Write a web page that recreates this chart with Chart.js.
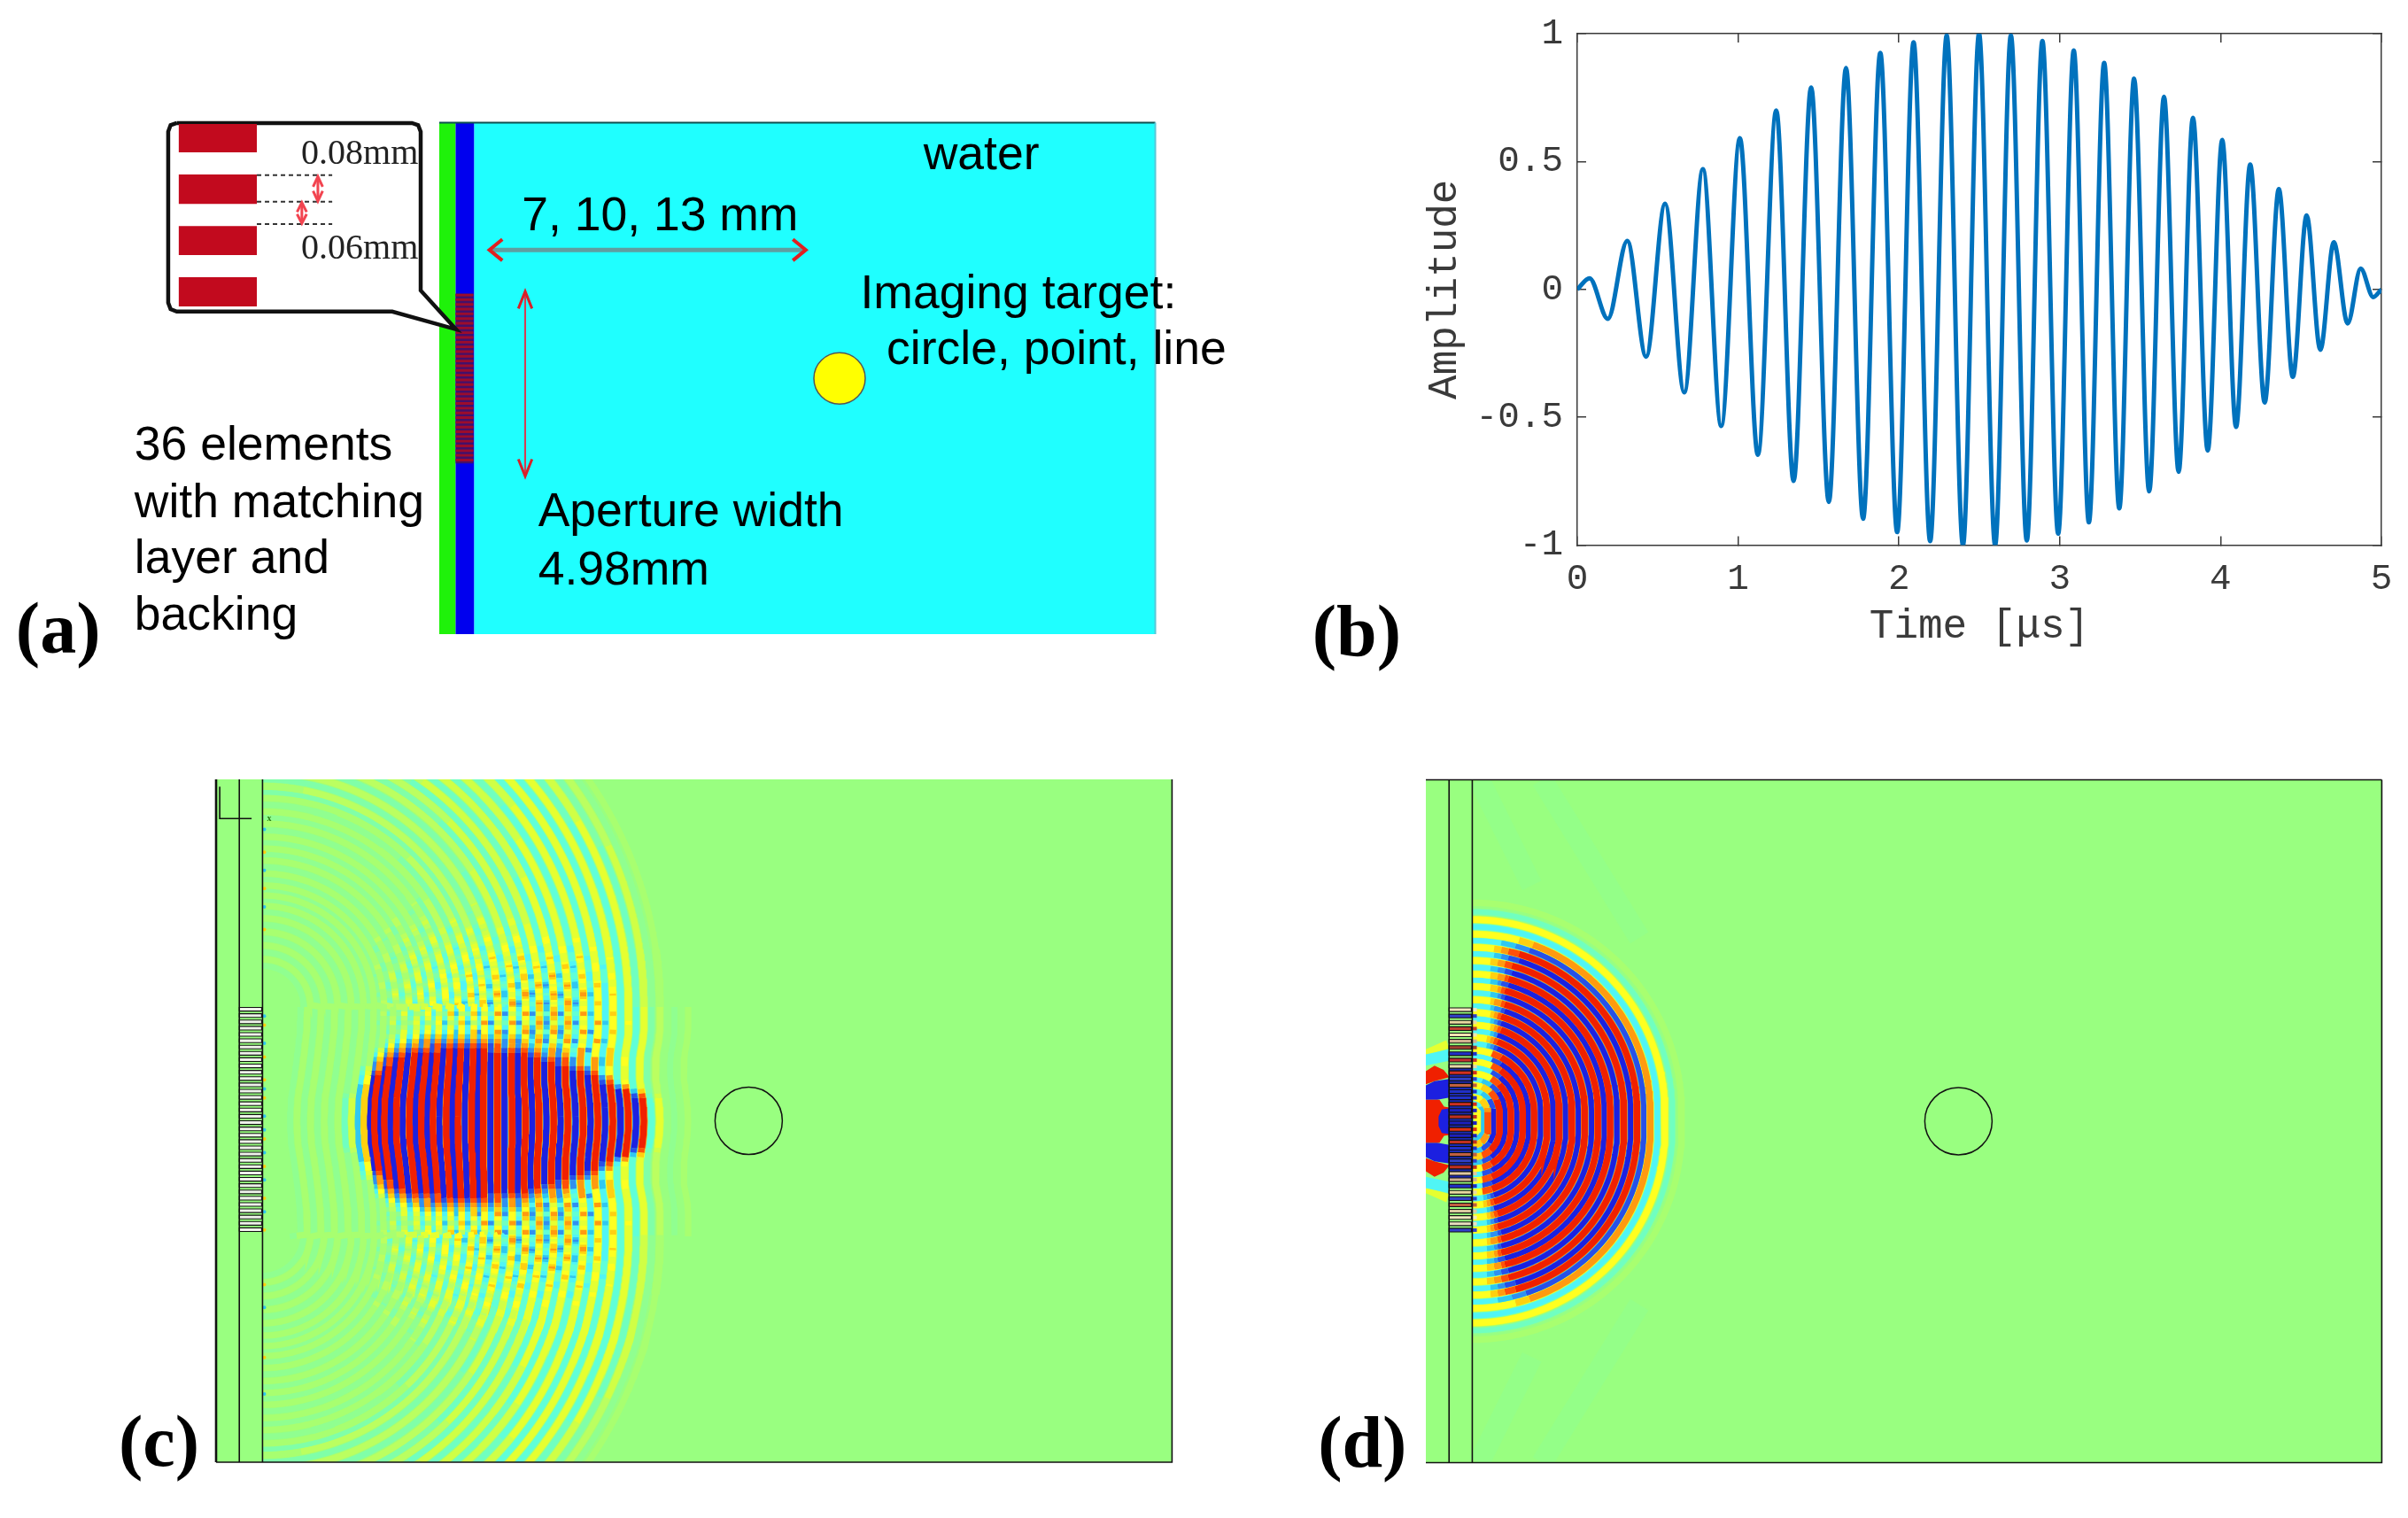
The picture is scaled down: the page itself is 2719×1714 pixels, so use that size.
<!DOCTYPE html>
<html>
<head>
<meta charset="utf-8">
<title>Ultrasound array simulation</title>
<script src="https://cdn.jsdelivr.net/npm/chart.js@4/dist/chart.umd.min.js"></script>
<style>
html, body { margin: 0; background: #fff; overflow: hidden; }
body { width: 2719px; height: 1714px; position: relative; }
canvas { position: absolute; }
</style>
</head>
<body>
<script>
// panel (b): peaks and troughs of the pulse
const pulseTime = [0, 0.076, 0.19, 0.311, 0.428, 0.546, 0.665, 0.781, 0.895, 1.011, 1.123, 1.237, 1.345, 1.454, 1.564, 1.671, 1.777, 1.884, 1.989, 2.091, 2.194, 2.297, 2.398, 2.498, 2.598, 2.696, 2.795, 2.892, 2.99, 3.087, 3.181, 3.276, 3.37, 3.462, 3.556, 3.648, 3.739, 3.828, 3.92, 4.01, 4.096, 4.184, 4.274, 4.362, 4.449, 4.535, 4.62, 4.704, 4.79, 4.871, 4.949, 5];
const pulseAmp = [0, 0.043, -0.115, 0.19, -0.263, 0.335, -0.403, 0.47, -0.534, 0.591, -0.647, 0.70, -0.749, 0.79, -0.831, 0.866, -0.897, 0.925, -0.949, 0.966, -0.984, 0.993, -1, 1, -1, 0.993, -0.982, 0.971, -0.955, 0.934, -0.911, 0.886, -0.856, 0.824, -0.79, 0.753, -0.713, 0.671, -0.63, 0.584, -0.538, 0.488, -0.442, 0.392, -0.342, 0.289, -0.236, 0.184, -0.133, 0.081, -0.03, 0];
const timeTicks = [0, 1, 2, 3, 4, 5];
const ampTicks = [-1, -0.5, 0, 0.5, 1];

// panel (c): wave stripes on the axis, mm from the array face
const cRed = [9.35, 8.73, 8.38, 8.04, 7.70, 7.37, 7.05, 6.71, 6.40, 6.08, 5.78, 5.49, 5.16, 4.84, 4.59, 4.29, 4.03, 3.74, 3.48, 3.22, 2.93, 2.67, 2.45, 2.22, 1.95, 1.65, 1.35, 1.05, 0.75];
const cBlue = [9.05, 8.54, 8.21, 7.87, 7.53, 7.21, 6.88, 6.55, 6.24, 5.93, 5.63, 5.32, 5.0, 4.71, 4.44, 4.16, 3.88, 3.61, 3.35, 3.07, 2.8, 2.56, 2.33, 2.08, 1.8, 1.5, 1.2, 0.9, 0.6];
const cCoreAmp = [0, 0.28, 1.3, 1.4, 1.4, 1.4, 1.4, 1.4, 1.4, 1.4, 1.4, 1.4, 1.4, 1.4, 1.4, 1.4, 1.4, 1.4, 1.4, 1.4, 1.4, 1.3, 1.1, 0.45, 0.15, 0, 0, 0, 0];
const cCoreHalf = [0, 0.8, 0.85, 1.0, 1.25, 1.5, 1.7, 1.85, 1.95, 2.05, 2.15, 2.2, 2.25, 2.3, 2.3, 2.3, 2.3, 2.25, 2.2, 2.15, 2.05, 1.9, 1.7, 1.4, 0.9, 0, 0, 0, 0];
const cSideAmp = [0.05, 0.1, 0.2, 0.28, 0.31, 0.31, 0.29, 0.27, 0.25, 0.23, 0.21, 0.19, 0.17, 0.15, 0.13, 0.12, 0.11, 0.1, 0.09, 0.08, 0.08, 0.07, 0.07, 0.07, 0.07, 0.06, 0.06, 0.06, 0.05];
const cBlobAmp = [0, 0, 0.15, 0.3, 0.5, 0.62, 0.7, 0.75, 0.75, 0.75, 0.72, 0.7, 0.66, 0.62, 0.56, 0.5, 0.45, 0.4, 0.34, 0.28, 0.22, 0.16, 0.1, 0.05, 0, 0, 0, 0, 0];
// blotches along a stripe beside the core, off-axis distance in mm
const cLobeAt = [1.6, 1.8, 2.0, 2.2, 2.4, 2.6, 2.8, 3.0, 3.2, 3.4, 3.6, 3.8, 4.0, 4.2, 4.4, 4.6, 4.8, 5.0];
const cLobe = [1, 0.2, 1, 0.25, 1, 0.25, 0.95, 0.25, 0.85, 0.2, 0.7, 0.2, 0.55, 0.15, 0.4, 0.1, 0.25, 0];
// right half of the packet bulges forward, left half hangs back
const cBulgeAt = [0, 0.25, 0.5, 0.75, 1, 1.25, 1.5, 1.75, 2, 2.5];
const cBulgeBy = [0, 0.01, 0.03, 0.06, 0.08, 0.08, 0.06, 0.02, 0, 0];
const cDipAt = [0, 0.5, 1, 1.5, 2, 2.5];
const cDipBy = [0.18, 0.16, 0.1, 0.05, 0.01, 0];
const cWallYellow = [5.9, 5.1, 4.2, 2.1, 1.4, 0.9, 0.5, -0.4, -1.0, -1.7, -2.4, -3.6, -5.2];
const cWallCyan = [6.4, 5.5, 4.7, 2.3, 1.7, 0.7, 0.1, -0.2, -0.7, -1.3, -2.0, -4.1, -6.0];

// panel (d): same idea, pulse still close to the array
const dRed = [4.6, 4.23, 3.91, 3.62, 3.33, 3.03, 2.76, 2.47, 2.19, 1.91, 1.64, 1.36, 1.11, 0.85, 0.60, 0.34, 0.12];
const dRedAmp = [0.07, 0.3, 0.65, 1.3, 1.4, 1.4, 1.4, 1.4, 1.4, 1.4, 1.4, 1.4, 1.4, 1.4, 1.4, 1.4, 1.3];
const dBlue = [4.75, 4.4, 4.07, 3.77, 3.48, 3.18, 2.9, 2.62, 2.33, 2.05, 1.78, 1.5, 1.23, 0.98, 0.72, 0.47, 0.22];
const dBlueAmp = [0.03, 0.18, 0.32, 0.9, 1.3, 1.4, 1.4, 1.4, 1.4, 1.4, 1.4, 1.4, 1.4, 1.4, 1.4, 1.4, 1.3];
const dFadeDeg = [0, 60, 70, 78, 90];
const dFade = [1, 1, 0.95, 0.6, 0.35];
const dWallGap = [0, 0.15, 0.35, 0.7]; // distance from the array face, mm
const dWallFade = [0.2, 0.3, 0.6, 1];
const dCells = ['#f3e6c0', '#3040c8', '#e9d9a0', '#c04030', '#f0e4b0', '#d0b090', '#a04030', '#2030c8', '#c03030', '#e8d8a8', '#d03020', '#3040c8', '#c06040', '#2030c8', '#2030c8', '#d03020', '#1c20c0', '#c03020', '#1c20c0', '#e03010', '#1c20c0', '#c03020', '#2030c8', '#c06040', '#3040c8', '#c03020', '#e0c8a0', '#d0b090', '#2030c8', '#e9d9a0', '#3040c8', '#c06040', '#d9c9a0', '#f0e8c0', '#e9e0c0', '#3040c8'];
// backing layer blobs, upper half (x, y in mm)
const dBlobRed = [[0, 1.10], [0.19, 1.22], [0.39, 1.13], [0.52, 0.97], [0.19, 0.88], [0, 0.81]];
const dBlobBlue = [[0, 0.79], [0.19, 0.88], [0.52, 0.93], [0.52, 0.52], [0.25, 0.47], [0, 0.47]];
const dBlobCentre = [[0, 0.47], [0.3, 0.47], [0.4, 0.32], [0.52, 0.3], [0.52, -0.3], [0.4, -0.32], [0.3, -0.47], [0, -0.47]];
const dBlobInner = [[0.52, 0.28], [0.35, 0.26], [0.28, 0.1], [0.28, -0.1], [0.35, -0.26], [0.52, -0.28]];

const elementCount = 36;
const apertureMm = 4.98;
const wall = 1.02;

const RED = '#c20a1e';
const WAVE_BG = '#99ff80';
const posColours = [[1, '#f02000'], [0.8, '#ff5008'], [0.6, '#ff9a10'], [0.45, '#ffd010'], [0.3, '#ffff20'], [0.2, '#e6ff30'], [0.15, '#d0ff45'], [0.1, '#bbff60'], [0.05, '#a8ff70']];
const negColours = [[1, '#1c20e0'], [0.8, '#2850e8'], [0.6, '#3090f0'], [0.45, '#30c8f0'], [0.3, '#50f5f5'], [0.2, '#60ffd8'], [0.15, '#70ffc0'], [0.1, '#80ffa8'], [0.05, '#90ff90']];
const NONE = 'rgba(0,0,0,0)';

function ampColour(amp, sign) {
    const table = sign > 0 ? posColours : negColours;
    for (const [level, colour] of table) if (amp >= level) return colour;
    return NONE;
}

function line(pts, colour, width, extra) {
    return Object.assign({
        data: pts.map(p => ({ x: p[0], y: p[1] })),
        showLine: true, borderColor: colour, borderWidth: width, pointRadius: 0
    }, extra || {});
}
function poly(pts, fillColour, edge, width) {
    return line(pts.concat([pts[0]]), edge || NONE, width || 0, { fill: 'shape', backgroundColor: fillColour });
}
function rect(x0, y0, x1, y1, fillColour, edge, width) {
    return poly([[x0, y0], [x1, y0], [x1, y1], [x0, y1]], fillColour, edge, width);
}
function mirror(pts) { return pts.map(p => [p[0], -p[1]]); }

function lookup(xs, ys, x) {
    if (x <= xs[0]) return ys[0];
    if (x >= xs[xs.length - 1]) return ys[ys.length - 1];
    for (let i = 1; i < xs.length; i++) {
        if (x <= xs[i]) return ys[i - 1] + (ys[i] - ys[i - 1]) * (x - xs[i - 1]) / (xs[i] - xs[i - 1]);
    }
    return ys[0];
}

// a wavefront: flat part of half height a, circles from the aperture edges
function frontPath(r, a, shiftAt, stepMm) {
    const upper = [];
    const dt = stepMm / r;
    for (let t = Math.PI / 2; t > 0; t -= dt) {
        const y = a + r * Math.sin(t);
        if (y < 7.7) upper.push([wall + r * Math.cos(t), y]);
    }
    for (let y = a; y > 0.001; y -= 0.1) {
        upper.push([wall + r + (shiftAt ? shiftAt(y) : 0), y]);
    }
    const lower = upper.map(p => [p[0], -p[1]]).reverse();
    return upper.concat([[wall + r + (shiftAt ? shiftAt(0) : 0), 0]], lower);
}

function stripe(pts, sign, width, gain, ampAt, clip) {
    return line(pts, NONE, width, {
        clip,
        segment: { borderColor: ctx => ampColour(ampAt(ctx.p0.parsed.x, ctx.p0.parsed.y) * gain, sign) }
    });
}

const textPlugin = {
    id: 'panelText',
    afterDatasetsDraw(chart, args, opts) {
        const ctx = chart.ctx;
        ctx.save();
        ctx.textBaseline = 'alphabetic';
        ctx.textAlign = 'left';
        (opts.items || []).forEach(t => {
            ctx.font = t.font;
            ctx.fillStyle = t.colour || '#000';
            ctx.fillText(t.text, chart.scales.x.getPixelForValue(t.x), chart.scales.y.getPixelForValue(t.y));
        });
        ctx.restore();
    }
};

// one canvas per panel, scales in mm; x0/y0 are where 0 mm sits on the page
function schematic(left, top, w, h, x0, y0, mm, datasets, labels) {
    const c = document.createElement('canvas');
    c.width = w; c.height = h;
    c.style.left = left + 'px'; c.style.top = top + 'px';
    document.body.appendChild(c);
    return new Chart(c, {
        type: 'scatter',
        data: { datasets: datasets.slice().reverse() },
        options: {
            responsive: false, animation: false, devicePixelRatio: 1,
            layout: { padding: 0, autoPadding: false },
            plugins: { legend: { display: false }, tooltip: { enabled: false }, panelText: { items: labels } },
            scales: {
                x: { type: 'linear', display: false, min: (left - x0) / mm, max: (left + w - x0) / mm },
                y: { type: 'linear', display: false, min: (y0 - top - h) / mm, max: (y0 - top) / mm }
            }
        },
        plugins: [textPlugin]
    });
}

const SANS = '53.5px "Liberation Sans"';
const TIMES = '40px "Liberation Serif"';
const LETTER = 'bold 82px "Liberation Serif"';

// ---- panel (a)
function buildA() {
    const ds = [];
    ds.push(rect(1.02, -7.5, 21, 7.5, '#1fffff'));
    ds.push(rect(0, -7.5, 0.48, 7.5, '#1ff20a'));
    ds.push(rect(0.48, -7.5, 1.02, 7.5, '#0000ee'));
    ds.push(line([[0, 7.5], [21, 7.5]], '#0d5050', 2));
    ds.push(line([[21, 7.5], [21, -7.5]], '#58c8d8', 2));
    ds.push(rect(0.48, -2.49, 1.0, 2.49, '#43106a'));
    const pitch = apertureMm / elementCount;
    for (let i = 0; i < elementCount; i++) {
        const yTop = 2.49 - i * pitch;
        ds.push(rect(0.48, yTop - 0.08, 1.0, yTop - 0.005, '#9c0c2c'));
    }
    // callout
    ds.push(poly([[-7.7, 7.49], [-0.8, 7.49], [-0.62, 7.43], [-0.545, 7.24], [-0.545, 2.58], [0.49, 1.44], [-1.38, 1.96], [-7.7, 1.96], [-7.88, 2.03], [-7.95, 2.22], [-7.95, 7.24], [-7.88, 7.43]], '#fff', '#111', 4.5));
    [[7.46, 6.63], [5.98, 5.12], [4.47, 3.62], [2.97, 2.11]].forEach(b => ds.push(rect(-7.64, b[1], -5.35, b[0], RED)));
    [5.96, 5.18, 4.53].forEach(y => ds.push(line([[-5.35, y], [-3.14, y]], '#333', 2, { borderDash: [5, 4] })));
    ds.push(line([[-3.56, 5.9], [-3.56, 5.24]], '#f24450', 3));
    ds.push(line([[-3.7, 5.62], [-3.56, 5.92], [-3.42, 5.62]], '#f24450', 3));
    ds.push(line([[-3.7, 5.5], [-3.56, 5.2], [-3.42, 5.5]], '#f24450', 3));
    ds.push(line([[-4.03, 5.14], [-4.03, 4.57]], '#f24450', 3));
    ds.push(line([[-4.17, 4.88], [-4.03, 5.16], [-3.89, 4.88]], '#f24450', 3));
    ds.push(line([[-4.17, 4.82], [-4.03, 4.55], [-3.89, 4.82]], '#f24450', 3));
    // arrows
    ds.push(line([[1.5, 3.77], [10.72, 3.77]], '#5f9ea0', 5));
    ds.push(line([[1.85, 4.08], [1.47, 3.77], [1.85, 3.46]], '#e02020', 4));
    ds.push(line([[10.37, 4.08], [10.75, 3.77], [10.37, 3.46]], '#e02020', 4));
    ds.push(line([[2.52, 2.55], [2.52, -2.87]], '#d83a50', 2));
    ds.push(line([[2.32, 2.05], [2.52, 2.55], [2.72, 2.05]], '#d82028', 3));
    ds.push(line([[2.32, -2.37], [2.52, -2.87], [2.72, -2.37]], '#d82028', 3));
    ds.push({ data: [{ x: 11.74, y: 0 }], showLine: false, pointRadius: 29, pointBackgroundColor: '#ffff00', pointBorderColor: '#555', pointBorderWidth: 1.5 });
    const labels = [
        ['water', 14.2, 6.14], ['7, 10, 13 mm', 2.42, 4.35], ['Imaging target:', 12.35, 2.06], ['circle, point, line', 13.12, 0.43],
        ['Aperture width', 2.9, -4.34], ['4.98mm', 2.9, -6.04], ['36 elements', -8.94, -2.38], ['with matching', -8.94, -4.07],
        ['layer and', -8.94, -5.7], ['backing', -8.94, -7.37]
    ].map(l => ({ text: l[0], x: l[1], y: l[2], font: SANS }));
    labels.push({ text: '0.08mm', x: -4.05, y: 6.29, font: TIMES, colour: '#222' });
    labels.push({ text: '0.06mm', x: -4.05, y: 3.52, font: TIMES, colour: '#222' });
    labels.push({ text: '(a)', x: -12.42, y: -8.04, font: LETTER });
    schematic(0, 100, 1420, 660, 496, 427.3, 38.5, ds, labels);
}

// frame, layers and target shared by (c) and (d)
function frameLines(ds, withLeft) {
    [0.51, wall].forEach(x => ds.push(line([[x, -7.5], [x, 7.5]], '#111', 1.6)));
    ds.push(line([[0, -7.5], [21, -7.5], [21, 7.5]], '#111', 1.6));
    if (withLeft) ds.push(line([[0, 7.5], [0, -7.5]], '#111', 2.6));
    else ds.push(line([[0, 7.5], [21, 7.5]], '#111', 1.6));
    ds.push({ data: [{ x: 11.7, y: 0 }], showLine: false, pointRadius: 38, pointBackgroundColor: NONE, pointBorderColor: '#111', pointBorderWidth: 1.5 });
}

// ---- panel (c)
function buildC() {
    const clip = { left: -124, right: -38, top: -20, bottom: -29 };
    const ds = [rect(0, -7.5, 21, 7.5, WAVE_BG)];
    const ampAt = (i, sign) => (x, y) => {
        const ay = Math.abs(y);
        const half = cCoreHalf[i];
        let core = 0;
        if (half > 0) core = cCoreAmp[i] * Math.max(0, Math.min(1, (half - ay) / (half * 0.42)));
        // neighbouring stripes blotch out of step, that gives the checker look
        const shift = (i % 2 ? 0.2 : 0) + (sign > 0 ? 0 : 0.2);
        const blob = ay < 1.2 ? 0 : cBlobAmp[i] * lookup(cLobeAt, cLobe, ay + shift);
        const side = cSideAmp[i] * lookup([2.5, 7.5], [1, 0.65], ay);
        return Math.max(core, blob, side);
    };
    const shiftFor = r => y => {
        const bulge = lookup([5, 6, 8.4], [0, 0.6, 1.2], r);
        const dip = lookup([2, 3.5, 5, 5.5], [1.3, 0.9, 0.1, 0], r);
        return dip * (lookup(cDipAt, cDipBy, y) * -1 + cDipBy[0]) - bulge * lookup(cBulgeAt, cBulgeBy, y);
    };
    const under = [], over = [];
    [[cBlue, -1], [cRed, 1]].forEach(([radii, sign]) => {
        radii.forEach((r, i) => {
            const pts = frontPath(r, 2.5, shiftFor(r), 0.05);
            under.push(stripe(pts, sign, 9, 0.55, ampAt(i, sign), clip));
            over.push(stripe(pts, sign, sign > 0 ? 7.2 : 6.6, 1, ampAt(i, sign), clip));
        });
    });
    ds.push(...under, ...over);
    // array comb
    const pitch = apertureMm / elementCount;
    for (let i = 0; i < elementCount; i++) {
        const yTop = 2.49 - i * pitch;
        ds.push(rect(0.51, yTop - 0.08, wall - 0.02, yTop, '#eef2ea', '#111', 1.1));
    }
    ds.push({ data: cWallYellow.map(y => ({ x: wall + 0.04, y })), showLine: false, pointRadius: 2, pointBackgroundColor: '#ffd010', pointBorderWidth: 0 });
    ds.push({ data: cWallCyan.map(y => ({ x: wall + 0.04, y })), showLine: false, pointRadius: 2, pointBackgroundColor: '#30c8f0', pointBorderWidth: 0 });
    frameLines(ds, true);
    // small axis triad left in the corner
    ds.push(line([[0.08, 7.34], [0.08, 6.64], [0.78, 6.64]], '#111', 1.6));
    schematic(120, 860, 1240, 820, 244, 1265.5, 51.4, ds, [
        { text: 'x', x: 1.12, y: 6.58, font: 'bold 10px "Liberation Serif"', colour: '#2a7a10' },
        { text: '(c)', x: -2.14, y: -7.58, font: LETTER }
    ]);
}

// ---- panel (d)
function buildD() {
    const clip = { left: -130, right: -31, top: -21, bottom: -29 };
    const ds = [rect(0, -7.5, 21, 7.5, WAVE_BG)];
    // faint rays either side of the pulse
    [[[2.55, 7.5], [4.69, 4.03]], [[1.17, 7.5], [2.33, 5.18]]].forEach(ray => {
        ds.push(line(ray, '#94ff88', 24, { clip }));
        ds.push(line(mirror(ray), '#94ff88', 24, { clip }));
    });
    // backing layer
    [1, -1].forEach(s => {
        const flip = pts => pts.map(p => [p[0], s * p[1]]);
        ds.push(poly(flip([[0, 1.58], [0.45, 1.78], [0.51, 1.6], [0, 1.45]]), '#e6ff30'));
        ds.push(poly(flip([[0, 1.22], [0.51, 1.33], [0.51, 1.58], [0, 1.47]]), '#50f5f5'));
        ds.push(poly(flip(dBlobRed), '#f02000'));
        ds.push(poly(flip(dBlobBlue), '#1c20e0'));
    });
    ds.push(poly(dBlobCentre, '#f02000'));
    ds.push(poly(dBlobInner, '#1c20e0'));

    const ampAt = amp => (x, y) => {
        const deg = Math.atan2(Math.abs(y) - 0.2, x - wall) * 180 / Math.PI;
        const faded = amp * lookup(dFadeDeg, dFade, Math.max(0, deg)) * lookup(dWallGap, dWallFade, x - wall);
        // strong fronts still reach the array face as yellow and cyan bands
        return Math.max(faded, Math.min(amp, 0.3));
    };
    const under = [], over = [];
    [[dBlue, dBlueAmp, -1], [dRed, dRedAmp, 1]].forEach(([radii, amps, sign]) => {
        radii.forEach((r, i) => {
            const pts = frontPath(r, 0.2, null, r < 1.5 ? 0.22 : 0.08);
            under.push(stripe(pts, sign, 8.5, 0.55, ampAt(amps[i]), clip));
            over.push(stripe(pts, sign, sign > 0 ? 7.2 : 5.8, 1, ampAt(amps[i]), clip));
        });
    });
    ds.push(...under, ...over);
    // array comb, elements pick up the field colours
    const pitch = apertureMm / elementCount;
    ds.push(rect(0.51, -1.25, wall, 1.25, '#1c2ab0'));
    dCells.forEach((colour, i) => {
        const yTop = 2.49 - i * pitch;
        ds.push(rect(0.51, yTop - 0.08, wall - 0.02, yTop, colour, '#111', 1.1));
        ds.push(line([[wall, yTop - 0.04], [wall + 0.1, yTop - 0.04]], colour, 4));
    });
    frameLines(ds, false);
    schematic(1480, 860, 1239, 820, 1610, 1266, 51.4, ds, [
        { text: '(d)', x: -2.37, y: -7.58, font: LETTER }
    ]);
}

// ---- panel (b)
function buildB() {
    const c = document.createElement('canvas');
    c.width = 1249; c.height = 760;
    c.style.left = '1470px'; c.style.top = '0px';
    document.body.appendChild(c);
    const MONO = '"Liberation Mono"';
    const INK = '#3a3a3a';
    const grid = { drawOnChartArea: false, drawTicks: true, tickLength: -10, color: INK, lineWidth: 1.5 };
    const border = { display: true, color: INK, width: 1.5 };
    const setTicks = list => scale => { scale.ticks = list.map(v => ({ value: v })); };
    // pin the axis boxes so the plot lands where the reference has it
    const fixed = (prop, size) => scale => {
        scale[prop] = size;
        scale.paddingTop = scale.paddingBottom = scale.paddingLeft = scale.paddingRight = 0;
    };
    new Chart(c, {
        type: 'scatter',
        data: {
            datasets: [{
                data: pulseTime.map((t, i) => ({ x: t, y: pulseAmp[i] })),
                showLine: true, borderColor: '#0072bd', borderWidth: 5, pointRadius: 0,
                cubicInterpolationMode: 'monotone'
            }]
        },
        options: {
            responsive: false, animation: false, devicePixelRatio: 1,
            layout: { padding: 0, autoPadding: false },
            plugins: {
                legend: { display: false }, tooltip: { enabled: false },
                panelText: { items: [{ text: '(b)', x: -1.648, y: -1.431, font: LETTER }] }
            },
            scales: {
                x: {
                    type: 'linear', position: 'bottom', min: 0, max: 5, grid, border,
                    afterBuildTicks: setTicks(timeTicks), afterFit: fixed('height', 144.5),
                    ticks: { padding: 24, color: INK, font: { family: MONO, size: 41 }, maxRotation: 0, callback: v => String(v) },
                    title: { display: true, text: 'Time [μs]', color: INK, font: { family: MONO, size: 46 }, padding: { top: 25, bottom: 25 } }
                },
                x2: {
                    type: 'linear', axis: 'x', position: 'top', min: 0, max: 5, grid, border,
                    afterBuildTicks: setTicks(timeTicks), afterFit: fixed('height', 38), ticks: { display: false }
                },
                y: {
                    type: 'linear', position: 'left', min: -1, max: 1, grid, border,
                    afterBuildTicks: setTicks(ampTicks), afterFit: fixed('width', 311),
                    ticks: { padding: 26, color: INK, font: { family: MONO, size: 41 }, callback: v => String(v) },
                    title: { display: true, text: 'Amplitude', color: INK, font: { family: MONO, size: 46 }, padding: { top: 134, bottom: 134 } }
                },
                y2: {
                    type: 'linear', axis: 'y', position: 'right', min: -1, max: 1, grid, border,
                    afterBuildTicks: setTicks(ampTicks), afterFit: fixed('width', 30), ticks: { display: false }
                }
            }
        },
        plugins: [textPlugin]
    });
}

buildA();
buildB();
buildC();
buildD();
</script>
</body>
</html>
